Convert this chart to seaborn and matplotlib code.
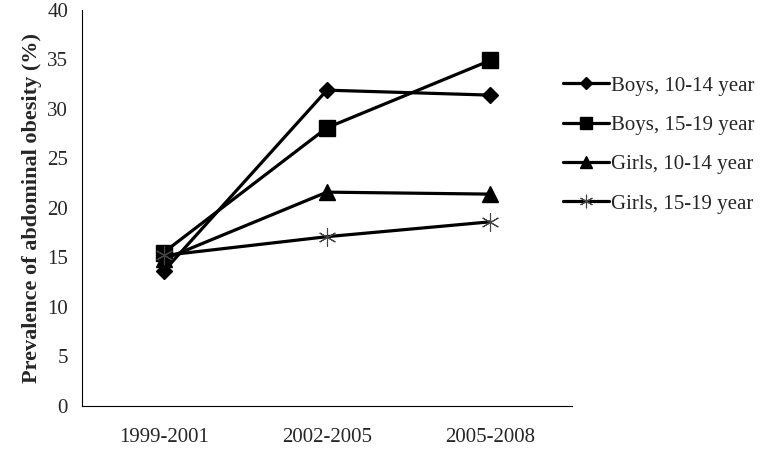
import matplotlib
matplotlib.use("Agg")
import matplotlib.pyplot as plt
import seaborn as sns
import pandas as pd

periods = ["1999-2001", "2002-2005", "2005-2008"]
boys_10_14 = [13.6, 31.9, 31.4]
boys_15_19 = [15.5, 28.1, 34.9]
girls_10_14 = [14.8, 21.6, 21.4]
girls_15_19 = [15.2, 17.1, 18.6]
series_names = ["Boys, 10-14 year", "Boys, 15-19 year", "Girls, 10-14 year", "Girls, 15-19 year"]

sns.set_style("white")
plt.rcParams['font.family'] = ['Liberation Serif', 'DejaVu Serif']

fig = plt.figure(figsize=(7.69, 4.49), dpi=100)
ax = fig.add_axes([0.1066, 0.0958, 0.637, 0.882])

styles = [
    dict(marker="D", markersize=8, markeredgecolor="black", markerfacecolor="black", markeredgewidth=1),
    dict(marker="s", markersize=11, markeredgecolor="black", markerfacecolor="black", markeredgewidth=1),
    dict(marker="^", markersize=11, markeredgecolor="black", markerfacecolor="black", markeredgewidth=1),
    dict(marker=(6, 2, 0), markersize=13, markeredgecolor="#444444", markerfacecolor="none", markeredgewidth=0.8),
]
data = [boys_10_14, boys_15_19, girls_10_14, girls_15_19]
for name, vals, st in zip(series_names, data, styles):
    df = pd.DataFrame({"period": periods, "value": vals})
    sns.lineplot(data=df, x="period", y="value", ax=ax, color="black", linewidth=2.3,
                 label=name, sort=False, **st)

ax.set_ylim(0, 40)
ax.set_yticks(range(0, 41, 5))
ax.set_xlim(-0.5, 2.5)
ax.set_xticks([0, 1, 2])
ax.set_xticklabels(periods)
ax.set_xticks([-0.5, 0.5, 1.5, 2.5], minor=True)
ax.tick_params(axis="x", which="major", length=0, pad=16, labelsize=15)
ax.tick_params(axis="x", which="minor", length=6, width=0.8, direction="out", color="black")
ax.tick_params(axis="y", length=6, width=0.8, direction="out", color="black", labelsize=15, pad=4)
ax.set_xlabel("")
ax.set_ylabel("Prevalence of abdominal obesity (%)", fontsize=16, fontweight="bold", labelpad=4)
for s in ["top", "right"]:
    ax.spines[s].set_visible(False)
for s in ["left", "bottom"]:
    ax.spines[s].set_color("black")
    ax.spines[s].set_linewidth(0.8)

ax.legend(loc="upper left", bbox_to_anchor=(0.953, 0.87), frameon=False, fontsize=15,
          handlelength=2.2, handletextpad=0.1, labelspacing=0.95, borderaxespad=0.3,
          markerscale=0.75)

fig.savefig("out.png", dpi=100)
